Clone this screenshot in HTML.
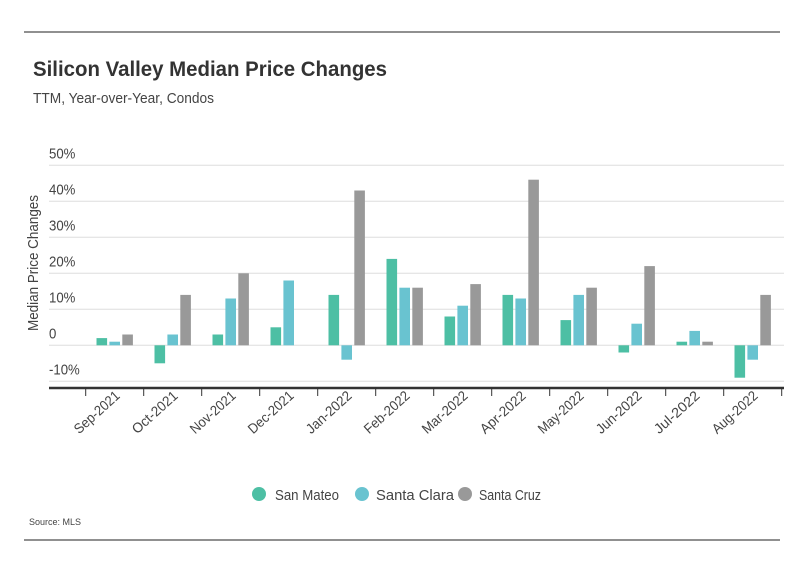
<!DOCTYPE html>
<html><head><meta charset="utf-8"><style>
body{margin:0;background:#fff;}
svg{display:block;font-family:"Liberation Sans Narrow","Liberation Sans",sans-serif;}
</style></head><body>
<svg id="c" width="799" height="575" viewBox="0 0 799 575">
<line x1="24" y1="32" x2="780" y2="32" stroke="#222" stroke-width="1"/>
<text x="33" y="76" font-size="21" font-weight="bold" fill="#333" textLength="354" lengthAdjust="spacingAndGlyphs">Silicon Valley Median Price Changes</text>
<text x="33" y="103" font-size="15" fill="#444" textLength="181" lengthAdjust="spacingAndGlyphs">TTM, Year-over-Year, Condos</text>
<text transform="translate(38,263) rotate(-90)" text-anchor="middle" font-size="15" fill="#444" textLength="136" lengthAdjust="spacingAndGlyphs">Median Price Changes</text>
<g id="grid"></g><g id="bars"></g><g id="xaxis"></g>
<g>
<g><circle cx="259" cy="494" r="7" fill="#4dbfa4"/><text x="275" y="500" font-size="15" fill="#444" textLength="64" lengthAdjust="spacingAndGlyphs">San Mateo</text></g>
<g><circle cx="362" cy="494" r="7" fill="#69c3d0"/><text x="376" y="500" font-size="15" fill="#444" textLength="78" lengthAdjust="spacingAndGlyphs">Santa Clara</text></g>
<g><circle cx="465" cy="494" r="7" fill="#999"/><text x="479" y="500" font-size="15" fill="#444" textLength="62" lengthAdjust="spacingAndGlyphs">Santa Cruz</text></g>
</g>
<text x="29" y="525" font-size="9" fill="#444">Source:  MLS</text>
<line x1="24" y1="540" x2="780" y2="540" stroke="#222" stroke-width="1"/>
</svg>
<script>
const categories=["Sep-2021","Oct-2021","Nov-2021","Dec-2021","Jan-2022","Feb-2022","Mar-2022","Apr-2022","May-2022","Jun-2022","Jul-2022","Aug-2022"];
const sanMateo=[2,-5,3,5,14,24,8,14,7,-2,1,-9];
const santaClara=[1,3,13,18,-4,16,11,13,14,6,4,-4];
const santaCruz=[3,14,20,0,43,16,17,46,16,22,1,14];
const yTicks=[-10,0,10,20,30,40,50];
const yTickLabels=["-10%","0","10%","20%","30%","40%","50%"];
const NS="http://www.w3.org/2000/svg";
const x0=85.7,x1=781.7,catW=(x1-x0)/categories.length;
function y(v){return 345.3-v*3.6;}
function cx(i){return x0+catW*(i+0.5);}
function mk(t,a,p){const e=document.createElementNS(NS,t);for(const k in a)e.setAttribute(k,a[k]);p.appendChild(e);return e;}
const grid=document.getElementById('grid');
yTicks.forEach((v,i)=>{
 const l=mk('line',{x1:49,x2:784,y1:y(v),y2:y(v),stroke:'#ddd','stroke-width':1},grid);
 
 
 const t=mk('text',{x:49,y:y(v)-7,'font-size':15,fill:'#444',transform:`translate(49,0) scale(0.88,1) translate(-49,0)`},grid);
 t.textContent=yTickLabels[i];
 
 
});
const bars=document.getElementById('bars');
const series=[[sanMateo,'#4dbfa4','san-mateo'],[santaClara,'#69c3d0','santa-clara'],[santaCruz,'#999','santa-cruz']];
const bw=10.6,gap=2.3;
categories.forEach((c,i)=>{
 series.forEach((s,j)=>{
  const v=s[0][i]; if(v===0&&j===2&&c==="Dec-2021")return;
  const bx=cx(i)-(3*bw+2*gap)/2+j*(bw+gap);
  const r=mk('rect',{x:bx,y:Math.min(y(v),y(0)),width:bw,height:Math.abs(y(v)-y(0)),fill:s[1]},bars);
  
  
 });
});
const xa=document.getElementById('xaxis');
const ax=mk('line',{x1:49,x2:784,y1:388,y2:388,stroke:'#333','stroke-width':2.5},xa);


for(let i=0;i<=categories.length;i++){
 const tk=mk('line',{x1:x0+catW*i,x2:x0+catW*i,y1:388,y2:396,stroke:'#333','stroke-width':1},xa);
 
 
}
categories.forEach((c,i)=>{
 const t=mk('text',{transform:`translate(${cx(i)+6},397) rotate(-42)`,'text-anchor':'end','font-size':14,fill:'#444',textLength:56,lengthAdjust:'spacingAndGlyphs'},xa);
 t.textContent=c;
 
 
});
</script>
</body></html>
